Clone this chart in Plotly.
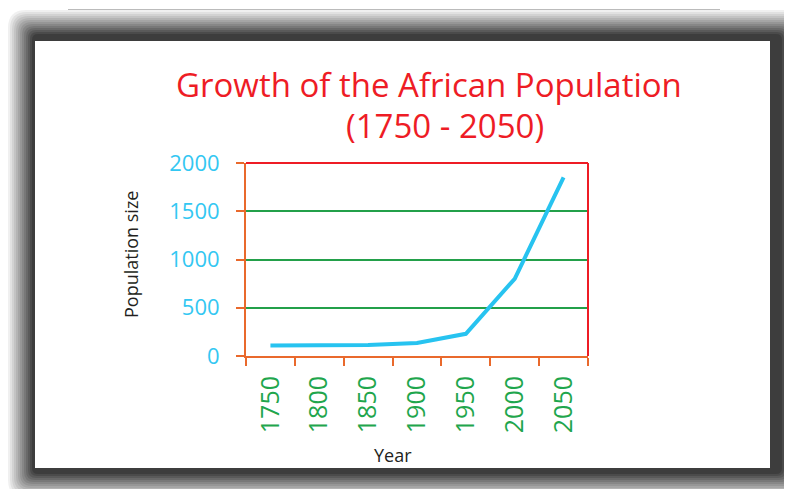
import plotly.graph_objects as go

# ---- data ----
years = ["1750", "1800", "1850", "1900", "1950", "2000", "2050"]
population = [110, 110, 115, 135, 230, 800, 1850]
y_tick_values = [0, 500, 1000, 1500, 2000]
title_line1 = "Growth of the African Population"
title_line2 = "(1750 - 2050)"
x_title = "Year"
y_title = "Population size"

# ---- geometry ----
# the page body has an 8px margin, so the figure is drawn smaller and
# every pixel position below (given in window pixels) is shifted by OFF.
OFF = 8
WIDTH, HEIGHT = 792 - OFF, 497 - 2 * OFF
L, R, T, B = 246 - OFF, 588 - OFF, 163 - OFF, 356 - OFF  # plot area edges
PW, PH = R - L, B - T

def fx(px):
    return (px - OFF - L) / PW

def fy(py):
    return (B - (py - OFF)) / PH

def rrect(x0, y0, x1, y1, r):
    pts = [
        ("M", [(x0 + r, y0)]),
        ("L", [(x1 - r, y0)]),
        ("Q", [(x1, y0), (x1, y0 + r)]),
        ("L", [(x1, y1 - r)]),
        ("Q", [(x1, y1), (x1 - r, y1)]),
        ("L", [(x0 + r, y1)]),
        ("Q", [(x0, y1), (x0, y1 - r)]),
        ("L", [(x0, y0 + r)]),
        ("Q", [(x0, y0), (x0 + r, y0)]),
    ]
    s = ""
    for cmd, ps in pts:
        s += cmd + " " + " ".join(f"{fx(a):.5f},{fy(b):.5f}" for a, b in ps) + " "
    return s + "Z"

RED = "#EE1C25"
ORANGE = "#E9692C"
GREEN_GRID = "#23A04A"
GREEN_TXT = "#1FA64D"
CYAN = "#33C7F2"
LINE = "#27C3F0"

shapes = []
# blurred dark frame: stacked rounded rects giving a roughly linear fade
n = 14
prev = 0.0
for i in range(n):
    target = min(0.058 * (i + 1), 0.75)
    a = 1 - (1 - target) / (1 - prev)
    prev = target
    x0 = 8 + 2 * i
    y0 = 10 + 2 * i
    x1 = 806 - 2 * i
    y1 = 498 - 2 * i
    r = max(18 - i, 3)
    shapes.append(dict(type="path", xref="paper", yref="paper", path=rrect(x0, y0, x1, y1, r),
                       fillcolor=f"rgba(0,0,0,{a:.4f})", line=dict(width=0), layer="below"))
# white panel
shapes.append(dict(type="rect", xref="paper", yref="paper", x0=fx(35), x1=fx(770), y0=fy(468), y1=fy(41),
                   fillcolor="white", line=dict(width=0), layer="below"))
# faint top line
shapes.append(dict(type="line", xref="paper", yref="paper", x0=fx(68), x1=fx(720), y0=fy(9.5), y1=fy(9.5),
                   line=dict(color="#BBBBBB", width=1), layer="below"))
# red top and right borders
shapes.append(dict(type="line", xref="paper", yref="paper", x0=0, x1=1, y0=1, y1=1,
                   line=dict(color=RED, width=2), layer="above"))
shapes.append(dict(type="line", xref="paper", yref="paper", x0=1, x1=1, y0=0, y1=1,
                   line=dict(color=RED, width=2), layer="above"))

annotations = [
    dict(text=title_line1, xref="paper", yref="paper", x=fx(428.5), y=fy(84), xanchor="center",
         yanchor="middle", showarrow=False, font=dict(family="Open Sans", size=33, color=RED)),
    dict(text=title_line2, xref="paper", yref="paper", x=fx(445), y=fy(125.5), xanchor="center",
         yanchor="middle", showarrow=False, font=dict(family="Open Sans", size=33, color=RED)),
    dict(text=y_title, xref="paper", yref="paper", x=fx(131), y=fy(255), xanchor="center",
         yanchor="middle", textangle=-90, showarrow=False,
         font=dict(family="Open Sans", size=18, color="#231F20")),
    dict(text=x_title, xref="paper", yref="paper", x=fx(393), y=fy(455), xanchor="center",
         yanchor="middle", showarrow=False, font=dict(family="Open Sans", size=18, color="#231F20")),
]

fig = go.Figure(go.Scatter(x=years, y=population, mode="lines",
                           line=dict(color=LINE, width=4), hoverinfo="skip"))

fig.update_layout(
    width=WIDTH, height=HEIGHT,
    margin=dict(l=L, r=WIDTH - R, t=T, b=HEIGHT - B, pad=0),
    paper_bgcolor="white", plot_bgcolor="rgba(0,0,0,0)",
    showlegend=False,
    font=dict(family="Open Sans"),
    shapes=shapes, annotations=annotations,
)
fig.update_xaxes(
    type="category", range=[-0.5, 6.5], tickson="boundaries",
    ticks="outside", ticklen=8, tickwidth=2, tickcolor=ORANGE,
    showline=True, linecolor=ORANGE, linewidth=2, showgrid=False,
    tickangle=-90, tickfont=dict(family="Open Sans", size=25, color=GREEN_TXT),
    ticklabelstandoff=8, automargin=False, fixedrange=True,
)
fig.update_yaxes(
    range=[0, 2000], tickvals=y_tick_values,
    ticks="outside", ticklen=8, tickwidth=2, tickcolor=ORANGE,
    showline=True, linecolor=ORANGE, linewidth=2,
    showgrid=True, gridcolor=GREEN_GRID, gridwidth=2, zeroline=False,
    tickfont=dict(family="Open Sans", size=22, color=CYAN),
    ticklabelstandoff=12, automargin=False, fixedrange=True,
)

fig.write_html("out.html")
